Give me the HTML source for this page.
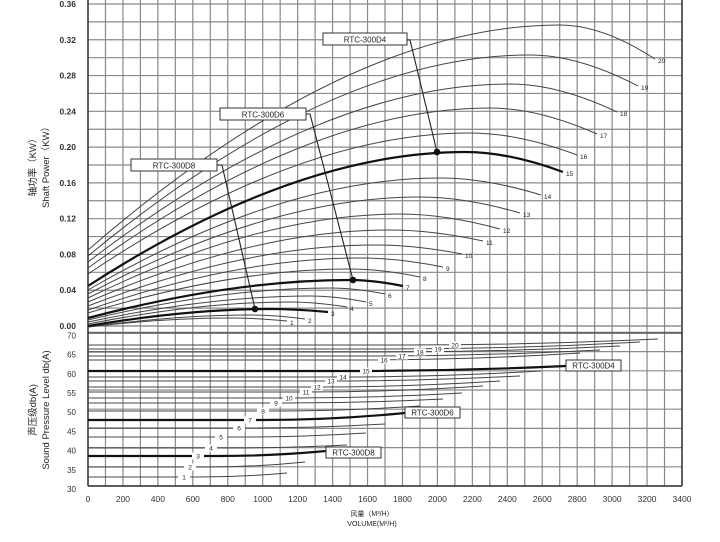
<!DOCTYPE html>
<html><head><meta charset="utf-8"><style>
html,body{margin:0;padding:0;background:#fff;}
svg{display:block;font-family:"Liberation Sans","Noto Sans CJK SC",sans-serif;}
</style></head><body>
<svg id="s" width="720" height="542" viewBox="0 0 720 542" xmlns="http://www.w3.org/2000/svg">
<g id="grid" stroke="#8a8a8a" stroke-width="1.2"></g>
<g id="curves" fill="none" stroke="#444"></g>
<g id="ann"></g>
<g id="txt" fill="#222" font-size="8"></g>
<text x="0" y="0" font-size="9.5" fill="#222" transform="translate(36,165) rotate(-90)" text-anchor="middle">轴功率（KW）</text>
<text x="0" y="0" font-size="9.5" fill="#222" transform="translate(49,165) rotate(-90)" text-anchor="middle">Shaft Power（KW）</text>
<text x="0" y="0" font-size="9.5" fill="#222" transform="translate(36,410) rotate(-90)" text-anchor="middle">声压级db(A)</text>
<text x="0" y="0" font-size="9.5" fill="#222" transform="translate(49,410) rotate(-90)" text-anchor="middle">Sound Pressure Level db(A)</text>
<text x="372" y="516" font-size="7" fill="#222" text-anchor="middle">风量（M³/H）</text>
<text x="372" y="526" font-size="7" fill="#222" text-anchor="middle">VOLUME(M³/H)</text>
</svg>
<script>
var NS="http://www.w3.org/2000/svg";
function el(p,t,a,txt){var e=document.createElementNS(NS,t);for(var k in a)e.setAttribute(k,a[k]);if(txt!==undefined)e.textContent=txt;document.getElementById(p).appendChild(e);return e;}
var X0=88,X1=682,px=(X1-X0)/34;
for(var i=0;i<=34;i++){var x=X0+i*px;el('grid','line',{x1:x,y1:0,x2:x,y2:486});}
var T0=326,tp=(326-4)/18;
for(var i=0;i<=18;i++){var y=T0-i*tp;el('grid','line',{x1:X0,y1:y,x2:X1,y2:y});
 if(i%2==0)el('txt','text',{x:76,y:y+3,'text-anchor':'end','font-size':8.5,'font-weight':'bold',fill:'#333'},(i*0.02).toFixed(2));}
function by(v){return 486-(v-30)*3.84;}
for(var v=30;v<=70;v+=5){var y=by(v);el('grid','line',{x1:X0,y1:y,x2:X1,y2:y});el('txt','text',{x:76,y:y+6,'text-anchor':'end','font-size':8,fill:'#333'},v);}
el('grid','line',{x1:X0,y1:333,x2:X1,y2:333,stroke:'#555','stroke-width':1.5});
el('grid','line',{x1:X0,y1:0,x2:X0,y2:486,stroke:'#333','stroke-width':1.5});
el('grid','line',{x1:X1,y1:0,x2:X1,y2:486,stroke:'#333','stroke-width':1.5});
el('grid','line',{x1:X0,y1:486,x2:X1,y2:486,stroke:'#333','stroke-width':1.5});
el('grid','line',{x1:X0,y1:326,x2:X1,y2:326,stroke:'#777','stroke-width':1});
for(var i=0;i<=34;i+=2){el('txt','text',{x:X0+i*px,y:502,'text-anchor':'middle','font-size':8.5,fill:'#333'},i==34?'3400':i*100);}
var P={
20:[250,560,25,655,59],19:[256,530,55,638,86],18:[262,510,84,617,112],17:[268,490,108,597,134],
16:[274,470,133,577,155],15:[286,465,152,563,172],14:[290,440,178,541,195],13:[294,420,197,520,213],
12:[298,400,214,500,229],11:[302,390,230,483,241],10:[306,375,245,462,254],9:[310,360,258,443,267],
8:[313,350,269,420,277],7:[318,350,280,403,286],6:[320,330,288,385,294],5:[322,310,296,366,302],
4:[324,290,302,347,307],3:[326,270,309,328,312],2:[327,250,315,305,319],1:[327,230,318,287,321]};
for(var n=1;n<=20;n++){var c=P[n],bold=(n==15||n==7||n==3);
 var cx1=c[1]-(c[1]-X0)*0.45,cx2=c[1]+(c[3]-c[1])*0.45;
 el('curves','path',{d:'M'+X0+','+c[0]+' Q'+cx1+','+c[2]+' '+c[1]+','+c[2]+' Q'+cx2+','+c[2]+' '+c[3]+','+c[4],
  'stroke-width':bold?2.2:1,stroke:bold?'#111':'#444'});
 el('txt','text',{x:c[3]+3,y:c[4]+4,'font-size':6.5},n);}
var S={
20:[345,658,339,455],19:[349,640,342,438],18:[352,620,346,420],17:[356,600,350,402],16:[360,580,353,384],
15:[371,566,366,366],14:[377,541,371,343],13:[381,520,376,331],12:[387,500,381,317],11:[392,483,386,306],
10:[398,462,393,289],9:[403,443,399,276],8:[411,420,406,263],7:[420,405,413,250],6:[428,385,424,239],
5:[437,366,433,221],4:[448,347,445,211],3:[456,326,451,198],2:[467,305,462,190],1:[477,287,473,184]};
for(var n=1;n<=20;n++){var c=S[n],bold=(n==15||n==7||n==3);
 var mid=X0+(c[1]-X0)*0.55;
 el('curves','path',{d:'M'+X0+','+c[0]+' L'+mid+','+c[0]+' Q'+(mid+(c[1]-mid)*0.5)+','+c[0]+' '+c[1]+','+c[2],
  'stroke-width':bold?2.2:1,stroke:bold?'#111':'#444'});
 var lx=c[3],ly=c[0];
 el('txt','rect',{x:lx-6,y:ly-3.5,width:12,height:7,fill:'#fff'});
 el('txt','text',{x:lx,y:ly+2.5,'font-size':6.5,'text-anchor':'middle'},n);}
function box(x,y,w,h,t){el('ann','rect',{x:x,y:y,width:w,height:h,fill:'#fff',stroke:'#333','stroke-width':1});
 el('ann','text',{x:x+w/2,y:y+h-2.5,'font-size':8,'text-anchor':'middle',fill:'#222'},t);}
function lead(pts){el('ann','polyline',{points:pts,fill:'none',stroke:'#222','stroke-width':1.1});}
lead('407,40 410,40 437,152');lead('306,114 310,114 353,280');lead('217,165 222,165 255,309');
box(323,33,84,12,'RTC-300D4');box(220,108,86,12,'RTC-300D6');box(131,159,86,12,'RTC-300D8');
el('ann','circle',{cx:437,cy:152,r:3.3,fill:'#111'});el('ann','circle',{cx:353,cy:280,r:3.3,fill:'#111'});el('ann','circle',{cx:255,cy:309,r:3.3,fill:'#111'});
box(566,360,55,11,'RTC-300D4');box(405,407,55,11,'RTC-300D6');box(326,447,55,11,'RTC-300D8');
</script>
</body></html>
